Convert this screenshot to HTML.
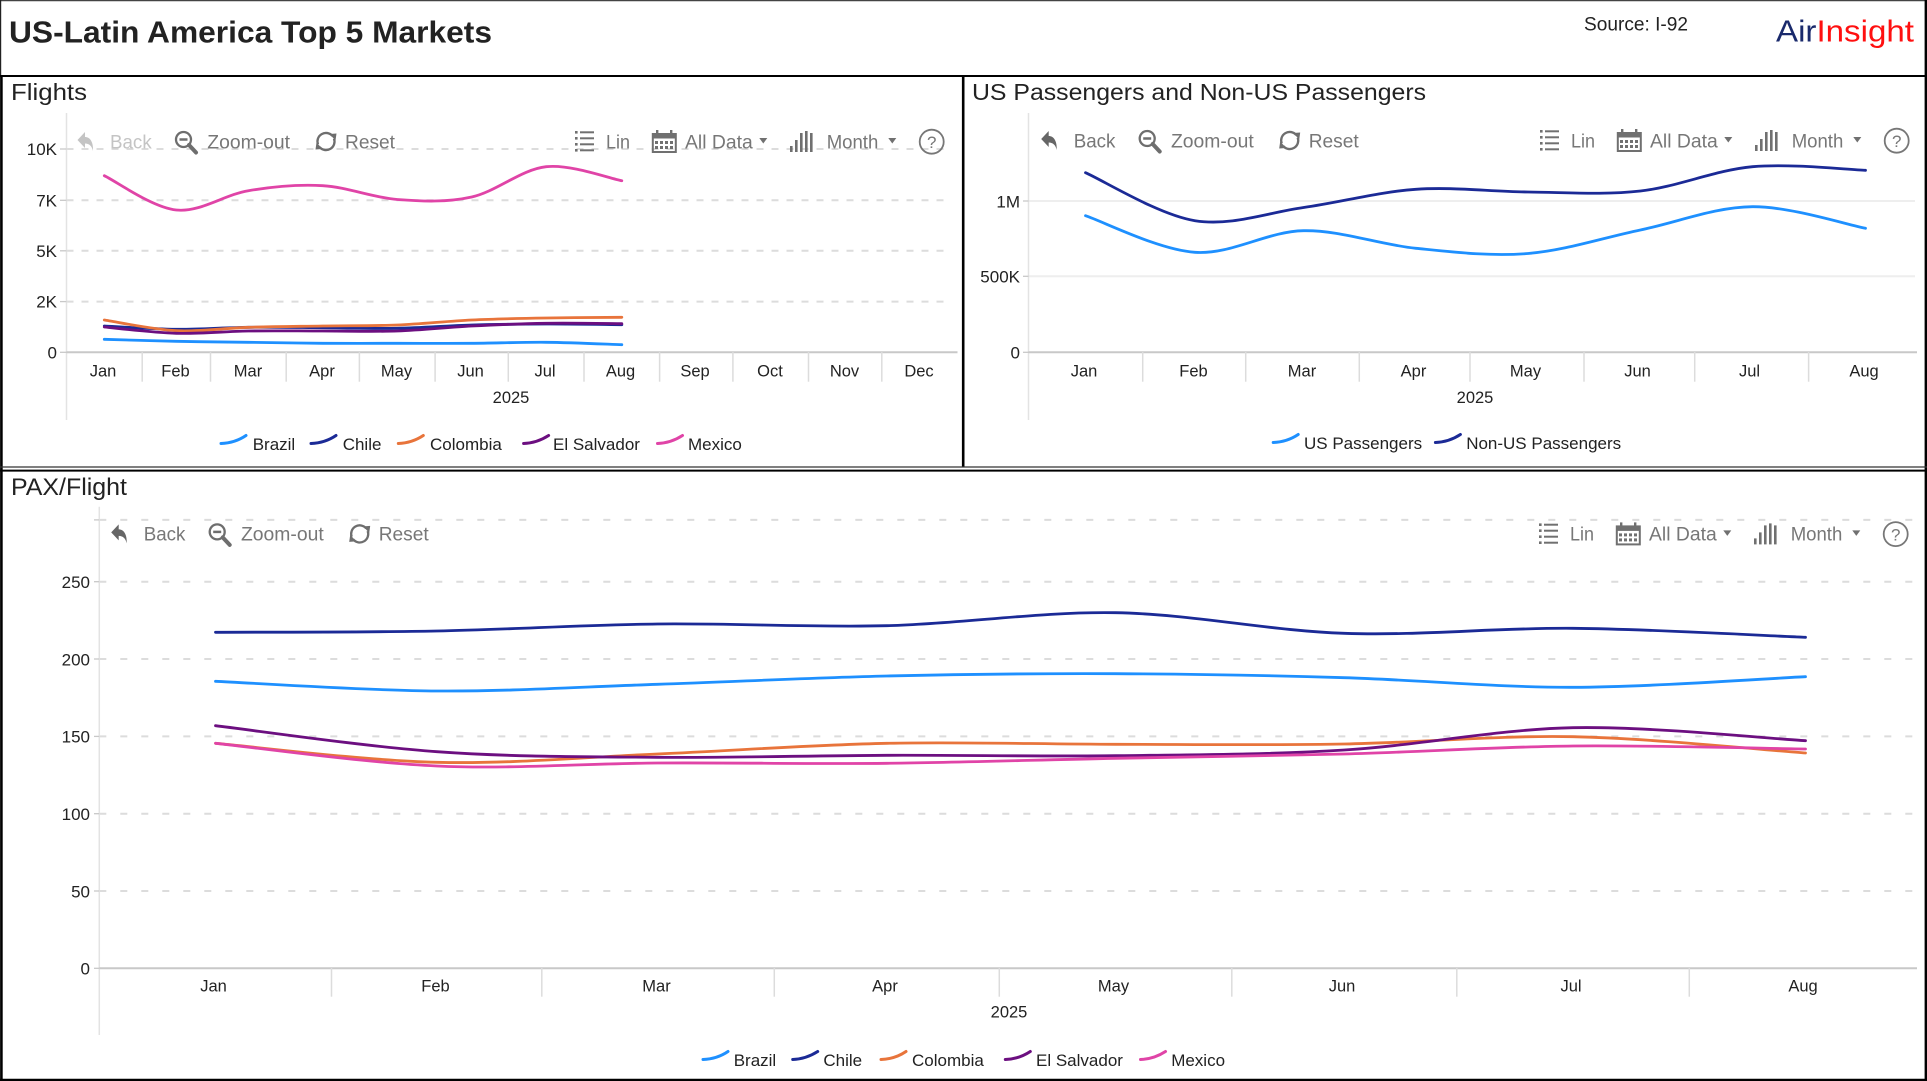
<!DOCTYPE html>
<html><head><meta charset="utf-8"><style>
html,body{margin:0;padding:0;background:#fff;}
svg{display:block;}
</style></head><body>
<svg id="s" width="1927" height="1081" viewBox="0 0 1927 1081" xmlns="http://www.w3.org/2000/svg" font-family="'Liberation Sans', Arial, sans-serif">
<rect width="1927" height="1081" fill="#fff"/>

<!-- Header -->
<text x="9" y="42.7" font-size="31" font-weight="bold" fill="#222" textLength="483" lengthAdjust="spacingAndGlyphs">US-Latin America Top 5 Markets</text>
<text x="1584" y="30.7" font-size="19" fill="#222" textLength="104" lengthAdjust="spacingAndGlyphs">Source: I-92</text>
<text x="1776" y="41.7" font-size="31" textLength="138" lengthAdjust="spacingAndGlyphs"><tspan fill="#1a2a6c">Air</tspan><tspan fill="#ff1010">Insight</tspan></text>

<!-- Borders -->
<line x1="0" y1="0.6" x2="1927" y2="0.6" stroke="#444" stroke-width="1.2"/>
<line x1="0.6" y1="0" x2="0.6" y2="76" stroke="#222" stroke-width="1.2"/>
<line x1="1.4" y1="76" x2="1.4" y2="1081" stroke="#000" stroke-width="2.6"/>
<line x1="1925.8" y1="0" x2="1925.8" y2="1081" stroke="#000" stroke-width="2.4"/>
<line x1="0" y1="1079.9" x2="1927" y2="1079.9" stroke="#000" stroke-width="2.4"/>
<line x1="0" y1="76" x2="1927" y2="76" stroke="#000" stroke-width="2"/>
<line x1="963.2" y1="76" x2="963.2" y2="467" stroke="#000" stroke-width="2.6"/>
<line x1="0" y1="467" x2="1927" y2="467" stroke="#333" stroke-width="1.3"/>
<line x1="0" y1="470.6" x2="1927" y2="470.6" stroke="#000" stroke-width="2"/>

<!-- Panel titles -->
<text x="11" y="100" font-size="23.5" fill="#222" textLength="76" lengthAdjust="spacingAndGlyphs">Flights</text>
<text x="972" y="100" font-size="23.5" fill="#222" textLength="454" lengthAdjust="spacingAndGlyphs">US Passengers and Non-US Passengers</text>
<text x="11" y="495" font-size="24" fill="#222" textLength="116" lengthAdjust="spacingAndGlyphs">PAX/Flight</text>

<!-- ================= FLIGHTS ================= -->
<g stroke="#dcdcdc" stroke-width="2" stroke-dasharray="7 8">
<line x1="66.5" y1="149" x2="946" y2="149"/>
<line x1="66.5" y1="200.3" x2="946" y2="200.3"/>
<line x1="66.5" y1="250.8" x2="946" y2="250.8"/>
<line x1="66.5" y1="301.6" x2="946" y2="301.6"/>
</g>
<line x1="66.5" y1="113" x2="66.5" y2="420" stroke="#e3e3e3" stroke-width="1.5"/>
<g stroke="#c8c8c8" stroke-width="1.3">
<line x1="60" y1="149" x2="66.5" y2="149"/><line x1="60" y1="200.3" x2="66.5" y2="200.3"/><line x1="60" y1="250.8" x2="66.5" y2="250.8"/><line x1="60" y1="301.6" x2="66.5" y2="301.6"/><line x1="60" y1="352.3" x2="66.5" y2="352.3"/>
</g>
<g font-size="17" fill="#222" text-anchor="end">
<text x="57" y="155">10K</text><text x="57" y="206.3">7K</text><text x="57" y="256.8">5K</text><text x="57" y="307.6">2K</text><text x="57" y="358.3">0</text>
</g>
<line x1="66.5" y1="352.3" x2="957.5" y2="352.3" stroke="#c8c8c8" stroke-width="2"/>
<g stroke="#dcdcdc" stroke-width="1.5">
<line x1="142.2" y1="352" x2="142.2" y2="381.7"/><line x1="210.5" y1="352" x2="210.5" y2="381.7"/><line x1="286.2" y1="352" x2="286.2" y2="381.7"/><line x1="359.4" y1="352" x2="359.4" y2="381.7"/><line x1="435.1" y1="352" x2="435.1" y2="381.7"/><line x1="508.3" y1="352" x2="508.3" y2="381.7"/><line x1="584" y1="352" x2="584" y2="381.7"/><line x1="659.6" y1="352" x2="659.6" y2="381.7"/><line x1="732.9" y1="352" x2="732.9" y2="381.7"/><line x1="808.5" y1="352" x2="808.5" y2="381.7"/><line x1="881.8" y1="352" x2="881.8" y2="381.7"/>
</g>
<g font-size="16.5" fill="#222" text-anchor="middle">
<text x="103" y="376.7">Jan</text><text x="175.5" y="376.7">Feb</text><text x="248" y="376.7">Mar</text><text x="322" y="376.7">Apr</text><text x="396.5" y="376.7">May</text><text x="470.5" y="376.7">Jun</text><text x="545" y="376.7">Jul</text><text x="620.5" y="376.7">Aug</text><text x="695" y="376.7">Sep</text><text x="770" y="376.7">Oct</text><text x="844.5" y="376.7">Nov</text><text x="919" y="376.7">Dec</text>
<text x="511" y="403">2025</text>
</g>
<g id="fl-lines" fill="none" stroke-width="2.8" stroke-linecap="round"></g>
<!-- legend flights -->
<g fill="none" stroke-width="3" stroke-linecap="round">
<path d="M221,443.5 Q235,443 246,435.5" stroke="#1e90ff"/>
<path d="M311,443.5 Q325,443 336,435.5" stroke="#1b2a96"/>
<path d="M398.3,443.5 Q412,443 423.3,435.5" stroke="#e8743b"/>
<path d="M523.6,443.5 Q537,443 548.6,435.5" stroke="#6c0f80"/>
<path d="M657.5,443.5 Q671,443 682.5,435.5" stroke="#e044a7"/>
</g>
<g font-size="17" fill="#222">
<text x="252.7" y="450">Brazil</text><text x="342.7" y="450">Chile</text><text x="430" y="450">Colombia</text><text x="553" y="450">El Salvador</text><text x="688" y="450">Mexico</text>
</g>

<!-- ================= PASSENGERS ================= -->
<g stroke="#eeeeee" stroke-width="2">
<line x1="1028.5" y1="201" x2="1915" y2="201"/>
<line x1="1028.5" y1="276.3" x2="1915" y2="276.3"/>
</g>
<line x1="1028.5" y1="113" x2="1028.5" y2="420" stroke="#e3e3e3" stroke-width="1.5"/>
<g stroke="#c8c8c8" stroke-width="1.3">
<line x1="1023" y1="201" x2="1028.5" y2="201"/><line x1="1023" y1="276.3" x2="1028.5" y2="276.3"/><line x1="1023" y1="352.3" x2="1028.5" y2="352.3"/>
</g>
<g font-size="17" fill="#222" text-anchor="end">
<text x="1020" y="207.5">1M</text><text x="1020" y="282.5">500K</text><text x="1020" y="358.3">0</text>
</g>
<line x1="1028.5" y1="352.3" x2="1917" y2="352.3" stroke="#c8c8c8" stroke-width="2"/>
<g stroke="#dcdcdc" stroke-width="1.5">
<line x1="1142.7" y1="352" x2="1142.7" y2="381.7"/><line x1="1245.7" y1="352" x2="1245.7" y2="381.7"/><line x1="1359.3" y1="352" x2="1359.3" y2="381.7"/><line x1="1470" y1="352" x2="1470" y2="381.7"/><line x1="1584" y1="352" x2="1584" y2="381.7"/><line x1="1694.7" y1="352" x2="1694.7" y2="381.7"/><line x1="1808.6" y1="352" x2="1808.6" y2="381.7"/>
</g>
<g font-size="16.5" fill="#222" text-anchor="middle">
<text x="1084" y="376.7">Jan</text><text x="1193.5" y="376.7">Feb</text><text x="1302" y="376.7">Mar</text><text x="1413.5" y="376.7">Apr</text><text x="1525.5" y="376.7">May</text><text x="1637.5" y="376.7">Jun</text><text x="1749.5" y="376.7">Jul</text><text x="1864" y="376.7">Aug</text>
<text x="1475" y="403">2025</text>
</g>
<g id="ps-lines" fill="none" stroke-width="2.8" stroke-linecap="round"></g>
<g fill="none" stroke-width="3" stroke-linecap="round">
<path d="M1273.2,442.5 Q1287,442 1298.2,434.5" stroke="#1e90ff"/>
<path d="M1435.4,442.5 Q1449,442 1460.4,434.5" stroke="#1b2a96"/>
</g>
<g font-size="17" fill="#222">
<text x="1304" y="449">US Passengers</text><text x="1466.2" y="449">Non-US Passengers</text>
</g>

<!-- ================= PAX/FLIGHT ================= -->
<g stroke="#dcdcdc" stroke-width="2" stroke-dasharray="7 14">
<line x1="99.3" y1="519.9" x2="1915" y2="519.9"/>
<line x1="99.3" y1="581.7" x2="1915" y2="581.7"/>
<line x1="99.3" y1="659" x2="1915" y2="659"/>
<line x1="99.3" y1="736.4" x2="1915" y2="736.4"/>
<line x1="99.3" y1="813.7" x2="1915" y2="813.7"/>
<line x1="99.3" y1="891" x2="1915" y2="891"/>
</g>
<line x1="99.3" y1="506.7" x2="99.3" y2="1035" stroke="#e3e3e3" stroke-width="1.5"/>
<g stroke="#c8c8c8" stroke-width="1.3">
<line x1="94" y1="519.9" x2="99.3" y2="519.9"/><line x1="94" y1="581.7" x2="99.3" y2="581.7"/><line x1="94" y1="659" x2="99.3" y2="659"/><line x1="94" y1="736.4" x2="99.3" y2="736.4"/><line x1="94" y1="813.7" x2="99.3" y2="813.7"/><line x1="94" y1="891" x2="99.3" y2="891"/><line x1="94" y1="968.3" x2="99.3" y2="968.3"/>
</g>
<g font-size="17" fill="#222" text-anchor="end">
<text x="90" y="588">250</text><text x="90" y="665.3">200</text><text x="90" y="742.7">150</text><text x="90" y="820">100</text><text x="90" y="897.3">50</text><text x="90" y="974.5">0</text>
</g>
<line x1="99.3" y1="968.3" x2="1917" y2="968.3" stroke="#c8c8c8" stroke-width="2"/>
<g stroke="#dcdcdc" stroke-width="1.5">
<line x1="331.5" y1="968" x2="331.5" y2="996.7"/><line x1="541.8" y1="968" x2="541.8" y2="996.7"/><line x1="774.3" y1="968" x2="774.3" y2="996.7"/><line x1="999.3" y1="968" x2="999.3" y2="996.7"/><line x1="1231.8" y1="968" x2="1231.8" y2="996.7"/><line x1="1456.8" y1="968" x2="1456.8" y2="996.7"/><line x1="1689.3" y1="968" x2="1689.3" y2="996.7"/>
</g>
<g font-size="16.5" fill="#222" text-anchor="middle">
<text x="213.5" y="991.7">Jan</text><text x="435.5" y="991.7">Feb</text><text x="656.5" y="991.7">Mar</text><text x="885" y="991.7">Apr</text><text x="1113.5" y="991.7">May</text><text x="1342" y="991.7">Jun</text><text x="1571" y="991.7">Jul</text><text x="1803" y="991.7">Aug</text>
<text x="1009" y="1017.5">2025</text>
</g>
<g id="px-lines" fill="none" stroke-width="2.8" stroke-linecap="round"></g>
<g fill="none" stroke-width="3" stroke-linecap="round">
<path d="M703,1059.5 Q717,1059 728,1051.5" stroke="#1e90ff"/>
<path d="M792.7,1059.5 Q806,1059 817.7,1051.5" stroke="#1b2a96"/>
<path d="M881,1059.5 Q895,1059 906,1051.5" stroke="#e8743b"/>
<path d="M1005.3,1059.5 Q1019,1059 1030.3,1051.5" stroke="#6c0f80"/>
<path d="M1140.5,1059.5 Q1154,1059 1165.5,1051.5" stroke="#e044a7"/>
</g>
<g font-size="17" fill="#222">
<text x="733.7" y="1066">Brazil</text><text x="823.4" y="1066">Chile</text><text x="912" y="1066">Colombia</text><text x="1036" y="1066">El Salvador</text><text x="1171.2" y="1066">Mexico</text>
</g>

<!-- ================= TOOLBARS ================= -->
<!-- Flights left group (Back disabled) -->
<g>
<path d="M85,132 L77.5,140 L85,148 L85,143.5 C89,143.5 92,146 93,151 C93.5,142 90,137 85,137 Z" fill="#c4c4c4"/>
<text x="110" y="148.3" font-size="19.3" fill="#c4c4c4" textLength="41.7" lengthAdjust="spacingAndGlyphs">Back</text>
<g stroke="#6e6e6e" fill="none">
<circle cx="183.5" cy="139.5" r="7.5" stroke-width="2.3"/>
<line x1="179.5" y1="139.5" x2="187.5" y2="139.5" stroke-width="2.5"/>
<line x1="189" y1="145" x2="196" y2="152.5" stroke-width="4" stroke-linecap="round"/>
<path d="M318,144.4 A8.5,8.5 0 0 1 332.5,136" stroke-width="2.3"/>
<path d="M334,138.6 A8.5,8.5 0 0 1 319.5,147" stroke-width="2.3"/>
</g>
<polygon points="329.5,134 336.5,133.5 335.5,140.5" fill="#6e6e6e"/>
<polygon points="322.5,149 315.5,149.5 316.5,142.5" fill="#6e6e6e"/>
<text x="207.3" y="148.3" font-size="19.3" fill="#777" textLength="82.7" lengthAdjust="spacingAndGlyphs">Zoom-out</text>
<text x="345" y="148.3" font-size="19.3" fill="#777" textLength="50" lengthAdjust="spacingAndGlyphs">Reset</text>
</g>
<!-- Passengers left group -->
<g transform="translate(963.7,-1)">
<path d="M85,132 L77.5,140 L85,148 L85,143.5 C89,143.5 92,146 93,151 C93.5,142 90,137 85,137 Z" fill="#666"/>
<text x="110" y="148.3" font-size="19.3" fill="#777" textLength="41.7" lengthAdjust="spacingAndGlyphs">Back</text>
<g stroke="#6e6e6e" fill="none">
<circle cx="183.5" cy="139.5" r="7.5" stroke-width="2.3"/>
<line x1="179.5" y1="139.5" x2="187.5" y2="139.5" stroke-width="2.5"/>
<line x1="189" y1="145" x2="196" y2="152.5" stroke-width="4" stroke-linecap="round"/>
<path d="M318,144.4 A8.5,8.5 0 0 1 332.5,136" stroke-width="2.3"/>
<path d="M334,138.6 A8.5,8.5 0 0 1 319.5,147" stroke-width="2.3"/>
</g>
<polygon points="329.5,134 336.5,133.5 335.5,140.5" fill="#6e6e6e"/>
<polygon points="322.5,149 315.5,149.5 316.5,142.5" fill="#6e6e6e"/>
<text x="207.3" y="148.3" font-size="19.3" fill="#777" textLength="82.7" lengthAdjust="spacingAndGlyphs">Zoom-out</text>
<text x="345" y="148.3" font-size="19.3" fill="#777" textLength="50" lengthAdjust="spacingAndGlyphs">Reset</text>
</g>
<!-- PAX left group -->
<g transform="translate(33.7,392.4)">
<path d="M85,132 L77.5,140 L85,148 L85,143.5 C89,143.5 92,146 93,151 C93.5,142 90,137 85,137 Z" fill="#666"/>
<text x="110" y="148.3" font-size="19.3" fill="#777" textLength="41.7" lengthAdjust="spacingAndGlyphs">Back</text>
<g stroke="#6e6e6e" fill="none">
<circle cx="183.5" cy="139.5" r="7.5" stroke-width="2.3"/>
<line x1="179.5" y1="139.5" x2="187.5" y2="139.5" stroke-width="2.5"/>
<line x1="189" y1="145" x2="196" y2="152.5" stroke-width="4" stroke-linecap="round"/>
<path d="M318,144.4 A8.5,8.5 0 0 1 332.5,136" stroke-width="2.3"/>
<path d="M334,138.6 A8.5,8.5 0 0 1 319.5,147" stroke-width="2.3"/>
</g>
<polygon points="329.5,134 336.5,133.5 335.5,140.5" fill="#6e6e6e"/>
<polygon points="322.5,149 315.5,149.5 316.5,142.5" fill="#6e6e6e"/>
<text x="207.3" y="148.3" font-size="19.3" fill="#777" textLength="82.7" lengthAdjust="spacingAndGlyphs">Zoom-out</text>
<text x="345" y="148.3" font-size="19.3" fill="#777" textLength="50" lengthAdjust="spacingAndGlyphs">Reset</text>
</g>

<!-- Right groups -->
<g id="rg1">
<g fill="#707070">
<rect x="575" y="131" width="2.6" height="2.6"/><rect x="575" y="137" width="2.6" height="2.6"/><rect x="575" y="143" width="2.6" height="2.6"/><rect x="575" y="149" width="2.6" height="2.6"/>
<rect x="580" y="131.3" width="14" height="2"/><rect x="580" y="137.3" width="14" height="2"/><rect x="580" y="143.3" width="14" height="2"/><rect x="580" y="149.3" width="14" height="2"/>
<rect x="652" y="134" width="24.5" height="4.5"/>
<rect x="656" y="130" width="2.4" height="6"/><rect x="670" y="130" width="2.4" height="6"/>
<rect x="655" y="141" width="3" height="3"/><rect x="660" y="141" width="3" height="3"/><rect x="665" y="141" width="3" height="3"/><rect x="670" y="141" width="3" height="3"/>
<rect x="655" y="146" width="3" height="3"/><rect x="660" y="146" width="3" height="3"/><rect x="665" y="146" width="3" height="3"/><rect x="670" y="146" width="3" height="3"/>
<polygon points="759.3,138 767.3,138 763.3,143.5"/>
<rect x="790" y="146" width="2.6" height="6"/><rect x="795" y="140" width="2.6" height="12"/><rect x="800" y="133" width="2.6" height="19"/><rect x="805" y="131" width="2.6" height="21"/><rect x="810" y="133" width="2.6" height="19"/>
<polygon points="888.3,138 896.3,138 892.3,143.5"/>
</g>
<rect x="652.8" y="134" width="23" height="18" fill="none" stroke="#707070" stroke-width="2"/>
<text x="606" y="148.3" font-size="19.3" fill="#777" textLength="24" lengthAdjust="spacingAndGlyphs">Lin</text>
<text x="685" y="148.3" font-size="19.3" fill="#777" textLength="67.7" lengthAdjust="spacingAndGlyphs">All Data</text>
<text x="826.7" y="148.3" font-size="19.3" fill="#777" textLength="51.6" lengthAdjust="spacingAndGlyphs">Month</text>
<circle cx="931.7" cy="141.7" r="12" fill="none" stroke="#777" stroke-width="1.8"/>
<text x="931.7" y="148" font-size="17" fill="#777" text-anchor="middle">?</text>
</g>
<g transform="translate(965,-1)">
<g fill="#707070">
<rect x="575" y="131" width="2.6" height="2.6"/><rect x="575" y="137" width="2.6" height="2.6"/><rect x="575" y="143" width="2.6" height="2.6"/><rect x="575" y="149" width="2.6" height="2.6"/>
<rect x="580" y="131.3" width="14" height="2"/><rect x="580" y="137.3" width="14" height="2"/><rect x="580" y="143.3" width="14" height="2"/><rect x="580" y="149.3" width="14" height="2"/>
<rect x="652" y="134" width="24.5" height="4.5"/>
<rect x="656" y="130" width="2.4" height="6"/><rect x="670" y="130" width="2.4" height="6"/>
<rect x="655" y="141" width="3" height="3"/><rect x="660" y="141" width="3" height="3"/><rect x="665" y="141" width="3" height="3"/><rect x="670" y="141" width="3" height="3"/>
<rect x="655" y="146" width="3" height="3"/><rect x="660" y="146" width="3" height="3"/><rect x="665" y="146" width="3" height="3"/><rect x="670" y="146" width="3" height="3"/>
<polygon points="759.3,138 767.3,138 763.3,143.5"/>
<rect x="790" y="146" width="2.6" height="6"/><rect x="795" y="140" width="2.6" height="12"/><rect x="800" y="133" width="2.6" height="19"/><rect x="805" y="131" width="2.6" height="21"/><rect x="810" y="133" width="2.6" height="19"/>
<polygon points="888.3,138 896.3,138 892.3,143.5"/>
</g>
<rect x="652.8" y="134" width="23" height="18" fill="none" stroke="#707070" stroke-width="2"/>
<text x="606" y="148.3" font-size="19.3" fill="#777" textLength="24" lengthAdjust="spacingAndGlyphs">Lin</text>
<text x="685" y="148.3" font-size="19.3" fill="#777" textLength="67.7" lengthAdjust="spacingAndGlyphs">All Data</text>
<text x="826.7" y="148.3" font-size="19.3" fill="#777" textLength="51.6" lengthAdjust="spacingAndGlyphs">Month</text>
<circle cx="931.7" cy="141.7" r="12" fill="none" stroke="#777" stroke-width="1.8"/>
<text x="931.7" y="148" font-size="17" fill="#777" text-anchor="middle">?</text>
</g>
<g transform="translate(964,392.4)">
<g fill="#707070">
<rect x="575" y="131" width="2.6" height="2.6"/><rect x="575" y="137" width="2.6" height="2.6"/><rect x="575" y="143" width="2.6" height="2.6"/><rect x="575" y="149" width="2.6" height="2.6"/>
<rect x="580" y="131.3" width="14" height="2"/><rect x="580" y="137.3" width="14" height="2"/><rect x="580" y="143.3" width="14" height="2"/><rect x="580" y="149.3" width="14" height="2"/>
<rect x="652" y="134" width="24.5" height="4.5"/>
<rect x="656" y="130" width="2.4" height="6"/><rect x="670" y="130" width="2.4" height="6"/>
<rect x="655" y="141" width="3" height="3"/><rect x="660" y="141" width="3" height="3"/><rect x="665" y="141" width="3" height="3"/><rect x="670" y="141" width="3" height="3"/>
<rect x="655" y="146" width="3" height="3"/><rect x="660" y="146" width="3" height="3"/><rect x="665" y="146" width="3" height="3"/><rect x="670" y="146" width="3" height="3"/>
<polygon points="759.3,138 767.3,138 763.3,143.5"/>
<rect x="790" y="146" width="2.6" height="6"/><rect x="795" y="140" width="2.6" height="12"/><rect x="800" y="133" width="2.6" height="19"/><rect x="805" y="131" width="2.6" height="21"/><rect x="810" y="133" width="2.6" height="19"/>
<polygon points="888.3,138 896.3,138 892.3,143.5"/>
</g>
<rect x="652.8" y="134" width="23" height="18" fill="none" stroke="#707070" stroke-width="2"/>
<text x="606" y="148.3" font-size="19.3" fill="#777" textLength="24" lengthAdjust="spacingAndGlyphs">Lin</text>
<text x="685" y="148.3" font-size="19.3" fill="#777" textLength="67.7" lengthAdjust="spacingAndGlyphs">All Data</text>
<text x="826.7" y="148.3" font-size="19.3" fill="#777" textLength="51.6" lengthAdjust="spacingAndGlyphs">Month</text>
<circle cx="931.7" cy="141.7" r="12" fill="none" stroke="#777" stroke-width="1.8"/>
<text x="931.7" y="148" font-size="17" fill="#777" text-anchor="middle">?</text>
</g>
</svg>
<script>
(function(){
  var NS="http://www.w3.org/2000/svg";
  function smooth(xs,ys){
    var n=xs.length, d="M"+xs[0]+","+ys[0];
    for(var i=0;i<n-1;i++){
      var p0=i>0?i-1:i, p3=i+2<n?i+2:i+1;
      var c1x=xs[i]+(xs[i+1]-xs[p0])/6, c1y=ys[i]+(ys[i+1]-ys[p0])/6;
      var c2x=xs[i+1]-(xs[p3]-xs[i])/6, c2y=ys[i+1]-(ys[p3]-ys[i])/6;
      d+=" C"+c1x.toFixed(1)+","+c1y.toFixed(1)+" "+c2x.toFixed(1)+","+c2y.toFixed(1)+" "+xs[i+1]+","+ys[i+1];
    }
    return d;
  }
  function draw(id,xs,series){
    var g=document.getElementById(id);
    series.forEach(function(s){
      var p=document.createElementNS(NS,"path");
      p.setAttribute("d",smooth(xs,s[1]));
      p.setAttribute("stroke",s[0]);
      g.appendChild(p);
    });
  }
  var BR="#1e90ff",CH="#1b2a96",CO="#e8743b",ES="#6c0f80",MX="#e044a7";
  var FX=[104.3,176.3,248.4,322.8,397.3,471.7,546.2,621.8];
  draw("fl-lines",FX,[
    [BR,[339.3,341.3,342.3,343.3,343.3,343.3,342.3,344.7]],
    [CH,[326,329.3,327.3,327.7,328.3,325,324,324.7]],
    [CO,[320,330.7,327.3,326,325,320,318,317.3]],
    [ES,[327,333.3,331,331,331,326,323.3,323.7]],
    [MX,[175.7,210,190.7,185.7,199.5,197,166.7,180.7]]
  ]);
  var PX=[1085.5,1195,1303.6,1415.9,1528,1640.4,1752.6,1865.5];
  draw("ps-lines",PX,[
    [BR,[215.7,252.3,230.7,248.3,253.5,230,206.7,228.3]],
    [CH,[172.7,220.7,207.5,189.3,192,191,166.7,170.3]]
  ]);
  var XX=[215.5,436.8,657.3,886.8,1115.5,1344.3,1573,1805.5];
  draw("px-lines",XX,[
    [BR,[681.3,691,684.3,676,673.7,677.7,687.3,676.7]],
    [CH,[632.3,631,624,625.7,612.7,633.3,628.3,637.3]],
    [CO,[743.3,762.3,754,743.3,744.3,744,736.7,753]],
    [ES,[725.7,751.7,757.3,755.3,755.7,750,727.7,740.7]],
    [MX,[743.3,766,763,763.3,758.3,754,746,749]]
  ]);
})();
</script>
</body></html>
